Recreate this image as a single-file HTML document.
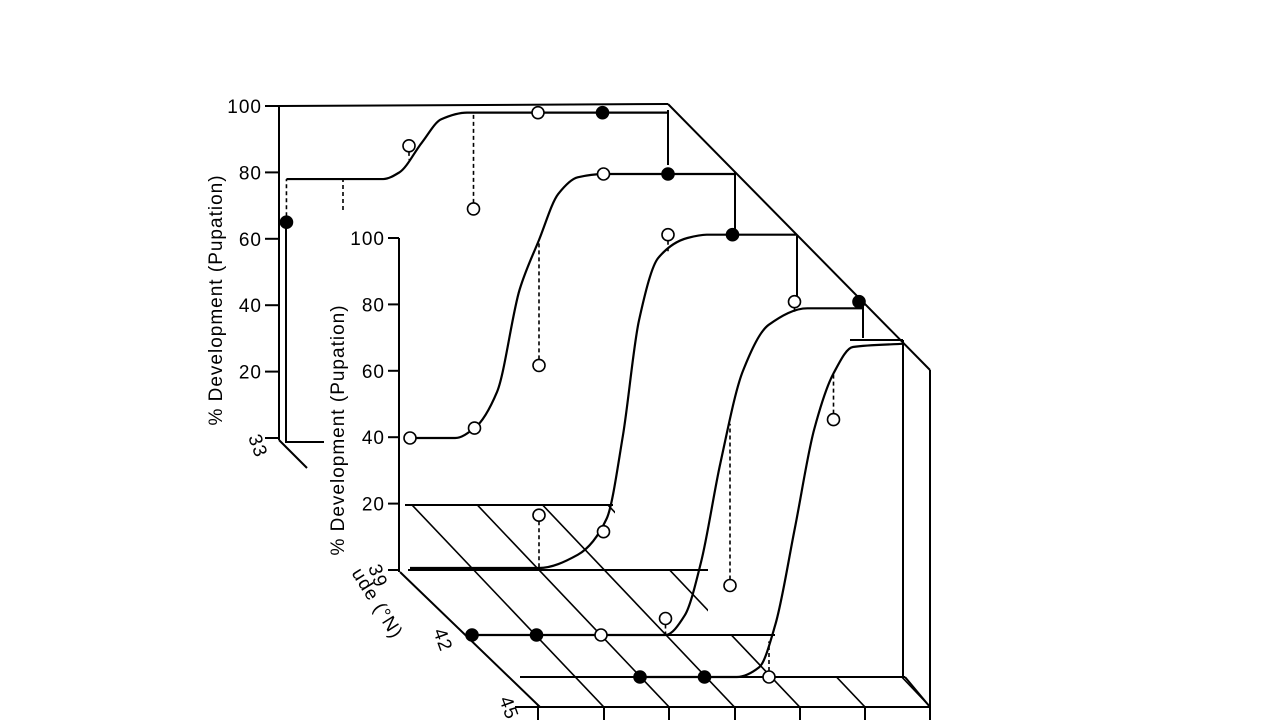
<!DOCTYPE html>
<html><head><meta charset="utf-8"><style>
html,body{margin:0;padding:0;background:#fff;}
svg{display:block;font-family:"Liberation Sans",sans-serif;}
</style></head><body>
<svg id="chart" width="1280" height="720" viewBox="0 0 1280 720">
<defs><clipPath id="hclip"><polygon points="405,505 615,505 615,570 708,570 708,635 775,635 775,677 905,677 930,707 538,707"/></clipPath></defs>
<g id="g" stroke="#000" fill="none" stroke-width="2"></g>
</svg>
<script>
// categories / tick labels
const yTicks = [100, 80, 60, 40, 20];
const latLabels = ["33", "39", "42", "45"];
// series: column index, value (%), filled flag
const aCols = [0.1, 2, 3, 4, 5];      const aVals = [65, 88, 69, 98, 98];     const aFill = [1,0,0,0,1];
const bCols = [0, 1, 2, 3, 4];        const bVals = [0, 3, 22, 80, 80];       const bFill = [0,0,0,0,1];
const cCols = [2, 3, 4, 5];           const cVals = [16, 11, 101, 101];       const cFill = [0,0,0,1];
const dCols = [0, 1, 2, 3, 4, 5, 6];  const dVals = [0, 0, 0, 5, 15, 101, 101]; const dFill = [1,1,0,0,0,0,1];
const eCols = [2, 3, 4, 5];           const eVals = [0, 0, 0, 78];            const eFill = [1,1,0,0];
// fitted curve nodes [col, value]
const aFit = [[0.1,78],[1.6,78],[1.85,80],[2.2,89],[2.5,96],[2.9,98],[6,98]];
const bFit = [[0,0],[0.7,0],[1,3],[1.35,14],[1.7,45],[2.0,60],[2.3,74],[2.6,79],[3,80],[5.04,80]];
const cFit = [[0,0],[2,0],[2.6,4],[3.05,15],[3.3,40],[3.55,75],[3.85,94],[4.3,100],[4.6,101],[6,101]];
const dFit = [[0,0],[3,0],[3.3,6],[3.55,22],[3.85,52],[4.2,80],[4.6,94],[5.2,99],[6.06,99]];
const eFit = [[2,0],[3.5,0],[3.85,3],[4.1,16],[4.4,45],[4.7,75],[5.0,92],[5.3,100],[6.1,101]];

const NS="http://www.w3.org/2000/svg", g=document.getElementById('g');
function mk(t,a,p){const e=document.createElementNS(NS,t);for(const k in a)e.setAttribute(k,a[k]);(p||g).appendChild(e);return e;}
const colW=64.5, yS=3.3;
function axes(x0,base,s){return {x:c=>x0+c*colW,y:v=>base-v*(s||yS)};}
const A=axes(280,438,3.32),B=axes(410,438),C=axes(410,568),D=axes(472,635),E=axes(511,677);

function L(x1,y1,x2,y2,name,w){const e=mk('line',{x1,y1,x2,y2,'stroke-width':w||2});return e;}
L(279,106,279,440,'back-y-axis');L(286,222,286,443,'back-post');
L(279,106,668,104,'back-top-edge');L(668,104,930,370,'top-diagonal-edge');L(930,370,930,720,'right-edge');
L(279,440,307,468,'back-depth-axis');L(286,442,324,442,'back-base');
L(668,110,668,165,'step-1');L(735,172,735,236,'step-2');L(797,236,797,300,'step-3');L(863,300,863,338,'step-4');
L(903,340,903,677,'inner-right-edge');L(850,340,903,340,'top-step');
L(399,238,399,572,'front-y-axis');L(405,505,613,505,'level-20-line');
L(408,570,708,570,'row-39-base');L(465,635,775,635,'row-42-base');L(520,677,905,677,'row-45-base');
L(905,677,930,707,'base-corner');L(400,572,540,707,'depth-axis');L(515,707,930,707,'front-bottom-edge');
[538,604,669,735,800,865,930].forEach((x,i)=>{L(x,707,x,720,'x-tick-'+i);});
const hg=mk('g',{'clip-path':'url(#hclip)','stroke-width':'1.6'});
for(let k=0;k<9;k++){const xb=538+k*65.3;const e=mk('line',{x1:xb-215,y1:480,x2:xb+10,y2:717},hg);}
function T(x,y,s,name,anchor,rot){const e=mk('text',{x,y,'font-size':19,fill:'#000',stroke:'none','text-anchor':anchor||'end','letter-spacing':'1'});if(rot)e.setAttribute('transform',rot);e.textContent=s;return e;}
yTicks.forEach(v=>{const y=A.y(v);L(265,y,279,y,'back-tick');T(262,y+7,v,'back-y-label-'+v);
 const y2=570-v*3.32;L(388,y2,399,y2,'front-tick');T(385,y2+7,v,'front-y-label-'+v);});
L(265,438,279,438,'back-tick-0');L(388,570,399,570,'front-tick-0');
T(0,0,latLabels[0],'lat-label-33','middle','translate(252,448) rotate(70)');
T(0,0,latLabels[1],'lat-label-39','middle','translate(372,578) rotate(70)');
T(0,0,latLabels[2],'lat-label-42','middle','translate(437,642) rotate(70)');
T(0,0,latLabels[3],'lat-label-45','middle','translate(503,710) rotate(70)');
T(0,0,'% Development (Pupation)','back-y-title','middle','translate(222,300) rotate(-90)');
T(0,0,'% Development (Pupation)','front-y-title','middle','translate(344,430) rotate(-90)');
T(0,0,'ude (°N)','depth-axis-title','end','translate(393,640) rotate(58)');

function interp(fit,c){for(let i=0;i<fit.length-1;i++){if(c>=fit[i][0]&&c<=fit[i+1][0]){const t=(c-fit[i][0])/(fit[i+1][0]-fit[i][0]);return fit[i][1]+t*(fit[i+1][1]-fit[i][1]);}}return null;}
function curve(fit,ax,name){
 const xs=fit.map(n=>ax.x(n[0])),ys=fit.map(n=>ax.y(n[1])),n=xs.length;
 const dx=[],s=[];for(let i=0;i<n-1;i++){dx[i]=xs[i+1]-xs[i];s[i]=(ys[i+1]-ys[i])/dx[i];}
 const m=[s[0]];for(let i=1;i<n-1;i++){m[i]=(s[i-1]*s[i]<=0)?0:(3*(dx[i-1]+dx[i]))/((2*dx[i]+dx[i-1])/s[i-1]+(dx[i]+2*dx[i-1])/s[i]);}m[n-1]=s[n-2];
 if(s[0]===0)m[0]=0;if(s[n-2]===0)m[n-1]=0;
 let d='M'+xs[0]+','+ys[0];
 for(let i=0;i<n-1;i++){const h=dx[i]/3;d+=' C'+(xs[i]+h)+','+(ys[i]+m[i]*h)+' '+(xs[i+1]-h)+','+(ys[i+1]-m[i+1]*h)+' '+xs[i+1]+','+ys[i+1];}
 const e=mk('path',{d,'stroke-width':2.2});}
function pts(cols,vals,fill,fit,ax,name){cols.forEach((c,i)=>{const x=ax.x(c),y=ax.y(vals[i]);const cv=interp(fit,c);
 if(cv!==null&&Math.abs(cv-vals[i])>3){const yc=ax.y(cv);const e=mk('line',{x1:x,y1:y+(yc>y?6:-6),x2:x,y2:yc,'stroke-dasharray':'4,3','stroke-width':1.6});}
 const e=mk('circle',{cx:x,cy:y,r:6,fill:fill[i]?'#000':'#fff','stroke-width':1.6});});}
const S=[[aCols,aVals,aFill,aFit,A,'series-a'],[bCols,bVals,bFill,bFit,B,'series-b'],[cCols,cVals,cFill,cFit,C,'series-c'],[dCols,dVals,dFill,dFit,D,'series-d'],[eCols,eVals,eFill,eFit,E,'series-e']];
S.forEach(s=>curve(s[3],s[4],s[5]+'-curve'));
const dl=mk('line',{x1:343,y1:178,x2:343,y2:210,'stroke-dasharray':'4,3','stroke-width':1.6});


S.forEach(s=>pts(s[0],s[1],s[2],s[3],s[4],s[5]));
</script>
</body></html>
